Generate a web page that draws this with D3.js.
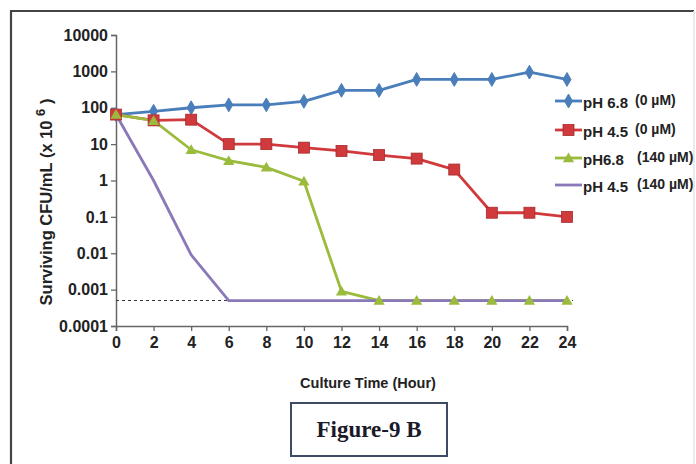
<!DOCTYPE html>
<html><head><meta charset="utf-8">
<script src="https://cdn.jsdelivr.net/npm/d3@7"></script>
<style>body{margin:0;background:#fff}svg{display:block}</style>
</head><body>
<svg id="c" width="696" height="464"></svg>
<script>
const hours = [0,2,4,6,8,10,12,14,16,18,20,22,24];
const ph68_0   = [65,80,100,120,120,150,300,300,600,600,600,950,600];
const ph45_0   = [65,45,47,10,10,8,6.5,5,4,2,0.13,0.13,0.1];
const ph68_140 = [65,44,7,3.5,2.3,0.95,0.0009,0.0005,0.0005,0.0005,0.0005,0.0005,0.0005];
const ph45_140 = [65,1,0.009,0.0005,0.0005,0.0005,0.0005,0.0005,0.0005,0.0005,0.0005,0.0005,0.0005];
const seriesNames = ["pH 6.8", "pH 4.5", "pH6.8", "pH 4.5"];
const seriesConc = ["(0 µM)", "(0 µM)", "(140 µM)", "(140 µM)"];
const yTicks = [0.0001,0.001,0.01,0.1,1,10,100,1000,10000];
const yTickLabels = ["0.0001","0.001","0.01","0.1","1","10","100","1000","10000"];
const xTicks = [0,2,4,6,8,10,12,14,16,18,20,22,24];
const detectionLimit = 0.0005;
const colors = ["#4a7ebb","#d03a3c","#9bbb3c","#8a78b8"];
const markers = ["diamond","square","triangle","x"];

const FONT = "Liberation Sans, Arial, sans-serif";
const svg = d3.select("#c");
// outer frame
svg.append("path").attr("d","M11,464 L11,11 L694,11").attr("fill","none").attr("stroke","#444").attr("stroke-width",2.2);
svg.append("line").attr("x1",694).attr("y1",11).attr("x2",694).attr("y2",464).attr("stroke","#e4e4e4").attr("stroke-width",1.5);

const x = d3.scaleLinear().domain([0,24]).range([116,567]);
const y = d3.scaleLog().domain([0.0001,10000]).range([326,35]);

const yAxis = svg.append("g").attr("transform","translate(116,0)")
  .call(d3.axisLeft(y).tickValues(yTicks).tickFormat((d,i)=>yTickLabels[i]).tickSize(5).tickPadding(3));
const xAxis = svg.append("g").attr("transform","translate(0,326)")
  .call(d3.axisBottom(x).tickValues(xTicks).tickSize(5).tickPadding(6));
[yAxis,xAxis].forEach(a=>{
  a.select(".domain").attr("stroke","#666").attr("stroke-width",1.5);
  a.selectAll(".tick line").attr("stroke","#666").attr("stroke-width",1.3);
  a.selectAll(".tick text").attr("font-family",FONT).attr("font-weight","bold").attr("font-size",16).attr("fill","#222");
});

// detection limit dashed line
svg.append("line").attr("x1",x(0)).attr("x2",x(24)+6).attr("y1",y(detectionLimit)).attr("y2",y(detectionLimit))
  .attr("stroke","#333").attr("stroke-width",1.1).attr("stroke-dasharray","3,3");

const data = [ph68_0, ph45_0, ph68_140, ph45_140];
const line = d3.line().x((d,i)=>x(hours[i])).y(d=>y(d));

function drawMarker(g, type, cx, cy, color){
  if(type==="diamond"){
    g.append("path").attr("d",d3.symbol(d3.symbolDiamond,55)()).attr("transform",`translate(${cx},${cy})`).attr("fill",color).attr("stroke",color);
  } else if(type==="square"){
    g.append("rect").attr("x",cx-5.5).attr("y",cy-5.5).attr("width",11).attr("height",11).attr("fill",color).attr("stroke","#a82a2c").attr("stroke-width",0.8);
  } else if(type==="triangle"){
    g.append("path").attr("d",d3.symbol(d3.symbolTriangle,55)()).attr("transform",`translate(${cx},${cy+1})`).attr("fill",color);
  } else {
    g.append("path").attr("d",d3.symbol(d3.symbolTimes,55)()).attr("transform",`translate(${cx},${cy})`).attr("fill","#b8b0d8").attr("opacity",0.8);
  }
}

data.forEach((s,k)=>{
  svg.append("path").datum(s).attr("d",line).attr("fill","none").attr("stroke",colors[k]).attr("stroke-width",2.8).attr("stroke-linejoin","round");
});
[0,1,2,3].forEach(k=>{
  const g = svg.append("g");
  data[k].forEach((v,i)=>drawMarker(g, markers[k], x(hours[i]), y(v), colors[k]));
});

// legend
const legY = [101,130,158,185];
seriesNames.forEach((n,k)=>{
  const g = svg.append("g");
  g.append("line").attr("x1",555).attr("x2",582).attr("y1",legY[k]).attr("y2",legY[k]).attr("stroke",colors[k]).attr("stroke-width",2.8);
  drawMarker(g, markers[k], 568.5, legY[k], colors[k]);
  g.append("text").attr("x",583).attr("y",legY[k]+7).attr("font-family",FONT).attr("font-weight","bold").attr("font-size",15).attr("fill","#222").text(n);
  g.append("text").attr("x",k<2?635:637).attr("y",legY[k]+4).attr("font-family",FONT).attr("font-weight","bold").attr("font-size",14).attr("fill","#222").text(seriesConc[k]);
});

// y title
const yt = svg.append("text").attr("transform","translate(52,202) rotate(-90)").attr("text-anchor","middle")
  .attr("font-family",FONT).attr("font-weight","bold").attr("font-size",16.5).attr("fill","#222");
yt.append("tspan").text("Surviving CFU/mL  (x 10 ");
yt.append("tspan").attr("dy",-7).attr("font-size",13).text("6");
yt.append("tspan").attr("dy",7).text(" )");

// x title
svg.append("text").attr("x",368).attr("y",388).attr("text-anchor","middle")
  .attr("font-family",FONT).attr("font-weight","bold").attr("font-size",14.5).attr("fill","#222").text("Culture Time (Hour)");

// figure label box
svg.append("rect").attr("x",291).attr("y",403).attr("width",156).attr("height",53).attr("fill","#fff").attr("stroke","#3e4a66").attr("stroke-width",2);
svg.append("text").attr("x",369).attr("y",437).attr("text-anchor","middle")
  .attr("font-family","Liberation Serif, Times New Roman, serif").attr("font-weight","bold").attr("font-size",23).attr("fill","#1a1a2a").text("Figure-9 B");
</script>
</body></html>
